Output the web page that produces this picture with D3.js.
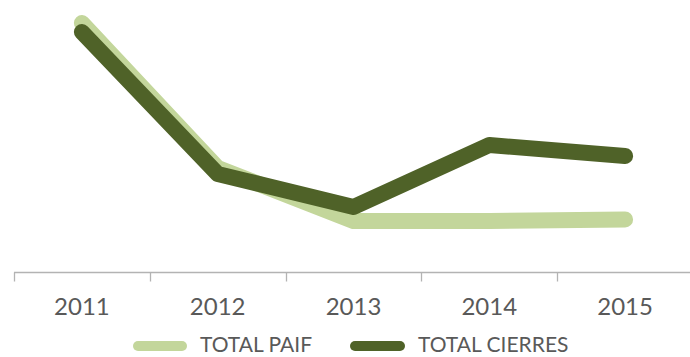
<!DOCTYPE html>
<html>
<head>
<meta charset="utf-8">
<script src="https://cdn.jsdelivr.net/npm/d3@7/dist/d3.min.js"></script>
<style>
  html, body { margin: 0; padding: 0; background: #fff; }
  svg text { font-family: Lato, "Open Sans", sans-serif; fill: #595959; }
</style>
</head>
<body>
<svg id="chart" width="690" height="357"></svg>
<script>
// Years on the category axis
const years = ["2011", "2012", "2013", "2014", "2015"];
// Series values
const totalPaif = [99.6, 41.6, 20.4, 20.4, 21.0];
const totalCierres = [96.0, 39.2, 26.0, 50.8, 46.4];
const seriesNames = ["TOTAL PAIF", "TOTAL CIERRES"];
const seriesColors = ["#c3d69b", "#4f6228"];

const svg = d3.select("#chart");
const width = 690;

const x = d3.scaleBand().domain(years).range([14, 693]).paddingInner(0).paddingOuter(0);
const y = d3.scaleLinear().domain([0, 100]).range([272, 22]);

// Category axis: baseline with ticks on band boundaries
const axisG = svg.append("g").attr("transform", "translate(0,272.5)");
axisG.append("line")
  .attr("x1", x.range()[0]).attr("x2", width)
  .attr("stroke", "#b3b3b3").attr("stroke-width", 1.3);
const boundaries = years.map(d => x(d)).concat([x(years[years.length - 1]) + x.bandwidth()]);
axisG.selectAll("line.tick").data(boundaries).enter().append("line")
  .attr("class", "tick")
  .attr("x1", d => Math.round(d) + 0.5).attr("x2", d => Math.round(d) + 0.5)
  .attr("y1", 0).attr("y2", 9)
  .attr("stroke", "#b3b3b3").attr("stroke-width", 1.3);
axisG.selectAll("text").data(years).enter().append("text")
  .attr("x", d => x(d) + x.bandwidth() / 2)
  .attr("y", 42.5)
  .attr("text-anchor", "middle")
  .style("font-size", "24px")
  .text(d => d);

// Lines
const line = d3.line()
  .x((d, i) => x(years[i]) + x.bandwidth() / 2)
  .y(d => y(d));

[totalPaif, totalCierres].forEach((vals, k) => {
  svg.append("path")
    .datum(vals)
    .attr("d", line)
    .attr("fill", "none")
    .attr("stroke", seriesColors[k])
    .attr("stroke-width", 16)
    .attr("stroke-linecap", "round")
    .attr("stroke-linejoin", "round");
});

// Legend
const legendItems = [
  { name: seriesNames[0], color: seriesColors[0], x0: 138, x1: 182, tx: 200 },
  { name: seriesNames[1], color: seriesColors[1], x0: 355, x1: 400, tx: 418 }
];
const lg = svg.append("g");
legendItems.forEach(it => {
  lg.append("line")
    .attr("x1", it.x0).attr("x2", it.x1)
    .attr("y1", 346).attr("y2", 346)
    .attr("stroke", it.color).attr("stroke-width", 10)
    .attr("stroke-linecap", "round");
  lg.append("text")
    .attr("x", it.tx).attr("y", 351.5)
    .style("font-size", "21px")
    .text(it.name);
});
</script>
</body>
</html>
